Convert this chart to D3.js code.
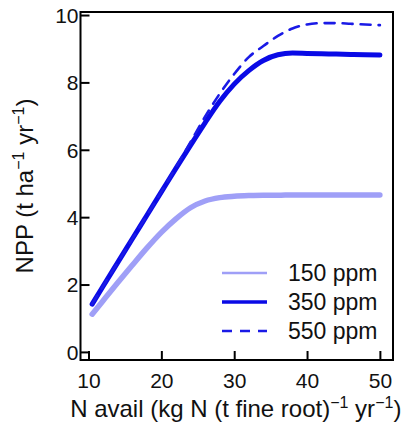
<!DOCTYPE html>
<html lang="en">
<head>
    <meta charset="UTF-8">
    <title>NPP vs N avail</title>
    <script src="https://cdn.jsdelivr.net/npm/d3@7"></script>
    <style>
        body { margin: 0; background: #fff; }
        svg { font-family: "Liberation Sans", Arial, sans-serif; }
        .axis text { font-size: 21px; fill: #111; }
        .axis path, .axis line { stroke: #000; stroke-width: 2px; }
    </style>
</head>
<body>
<script>

    /******* DATA *******/
    const nAvail = [10.5, 12, 14, 16, 18, 20, 22, 24, 26, 28, 30, 32, 34, 36, 38, 40, 42, 44, 46, 48, 50];
    const npp150 = [1.12, 1.52, 2.05, 2.57, 3.08, 3.55, 3.95, 4.28, 4.48, 4.58, 4.62, 4.64, 4.65, 4.65, 4.66, 4.66, 4.66, 4.66, 4.66, 4.66, 4.66];
    const npp350 = [1.42, 1.95, 2.65, 3.35, 4.05, 4.75, 5.45, 6.13, 6.8, 7.43, 7.95, 8.35, 8.65, 8.82, 8.87, 8.86, 8.85, 8.84, 8.83, 8.82, 8.81];
    const npp550 = [1.42, 1.95, 2.65, 3.35, 4.05, 4.75, 5.48, 6.23, 6.98, 7.66, 8.25, 8.75, 9.08, 9.38, 9.6, 9.72, 9.76, 9.76, 9.74, 9.72, 9.7];
    const xTicks = [10, 20, 30, 40, 50];
    const yTicks = [0, 2, 4, 6, 8, 10];
    const seriesNames = ["150 ppm", "350 ppm", "550 ppm"];

    /******* STYLING *******/
    const width = 413, height = 423;
    const box = {left: 80.5, right: 393, top: 12, bottom: 360};
    const styles = [
        {color: "#9f9ff7", width: 5.5, legendWidth: 2.5, dash: null},
        {color: "#0a0ae6", width: 5, legendWidth: 3.5, dash: null},
        {color: "#1a1ae6", width: 2.6, legendWidth: 2.6, dash: "10,8"}
    ];

    const svg = d3.select("body").append("svg")
        .attr("width", width)
        .attr("height", height);

    // Scales
    const xScale = d3.scaleLinear().domain([8.9, 51.8]).range([box.left, box.right]);
    const yScale = d3.scaleLinear().domain([-0.24, 10.09]).range([box.bottom, box.top]);

    // Axes (ticks inward)
    svg.append("g")
        .attr("class", "axis")
        .attr("transform", `translate(0,${box.bottom})`)
        .call(d3.axisBottom(xScale).tickValues(xTicks).tickSizeInner(-9).tickSizeOuter(0).tickPadding(13))
        .call(g => g.select(".domain").remove());
    svg.append("g")
        .attr("class", "axis")
        .attr("transform", `translate(${box.left},0)`)
        .call(d3.axisLeft(yScale).tickValues(yTicks).tickSizeInner(-9).tickSizeOuter(0).tickPadding(2))
        .call(g => g.select(".domain").remove())
        .selectAll("text").attr("dy", "0.35em");

    // Box
    svg.append("rect")
        .attr("x", box.left).attr("y", box.top)
        .attr("width", box.right - box.left)
        .attr("height", box.bottom - box.top)
        .attr("fill", "none")
        .attr("stroke", "#000")
        .attr("stroke-width", 2);

    // Lines
    const lineGen = d3.line()
        .x((d, i) => xScale(nAvail[i]))
        .y(d => yScale(d))
        .curve(d3.curveMonotoneX);

    const allSeries = [npp150, npp350, npp550];
    svg.append("g")
        .selectAll("path")
        .data(allSeries)
        .enter()
        .append("path")
        .attr("d", d => lineGen(d))
        .attr("fill", "none")
        .attr("stroke", (d, i) => styles[i].color)
        .attr("stroke-width", (d, i) => styles[i].width)
        .attr("stroke-linecap", "round")
        .attr("stroke-dasharray", (d, i) => styles[i].dash);

    // Legend
    const legend = svg.append("g").attr("transform", "translate(222,273)");
    seriesNames.forEach((name, i) => {
        legend.append("line")
            .attr("x1", 0).attr("x2", 45)
            .attr("y1", i * 29).attr("y2", i * 29)
            .attr("stroke", styles[i].color)
            .attr("stroke-width", styles[i].legendWidth)
            .attr("stroke-dasharray", styles[i].dash);
        legend.append("text")
            .attr("x", 66).attr("y", i * 29)
            .attr("dy", "0.36em")
            .style("font-size", "23px")
            .style("fill", "#111")
            .text(name);
    });

    // X-Axis Title
    const xt = svg.append("text")
        .attr("x", (box.left + box.right) / 2 - 1)
        .attr("y", 417)
        .attr("text-anchor", "middle")
        .style("font-size", "24px")
        .style("fill", "#111");
    xt.append("tspan").text("N avail (kg N (t fine root)");
    xt.append("tspan").attr("dy", -9).style("font-size", "16px").text("\u22121");
    xt.append("tspan").attr("dy", 9).text(" yr");
    xt.append("tspan").attr("dy", -9).style("font-size", "16px").text("\u22121");
    xt.append("tspan").attr("dy", 9).text(")");

    // Y-Axis Title
    const yt = svg.append("text")
        .attr("transform", `translate(33,186) rotate(-90)`)
        .attr("text-anchor", "middle")
        .style("font-size", "24px")
        .style("fill", "#111");
    yt.append("tspan").text("NPP (t ha");
    yt.append("tspan").attr("dy", -9).style("font-size", "16px").text("\u22121");
    yt.append("tspan").attr("dy", 9).text(" yr");
    yt.append("tspan").attr("dy", -9).style("font-size", "16px").text("\u22121");
    yt.append("tspan").attr("dy", 9).text(")");

</script>
</body>
</html>
